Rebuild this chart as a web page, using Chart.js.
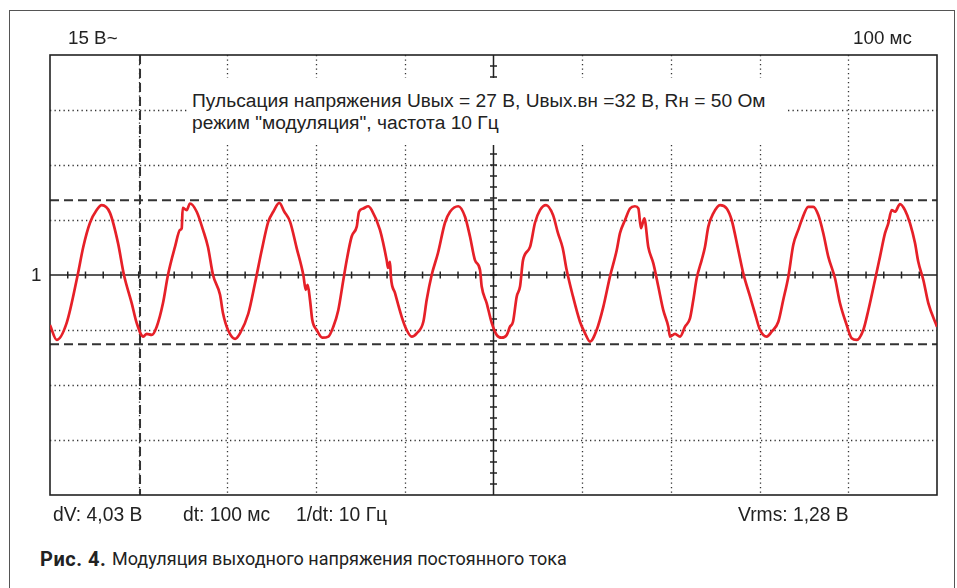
<!DOCTYPE html>
<html>
<head>
<meta charset="utf-8">
<script src="https://cdn.jsdelivr.net/npm/chart.js@4/dist/chart.umd.min.js"></script>
<style>
  html, body { margin: 0; padding: 0; background: #fff; }
  body { width: 957px; height: 588px; position: relative; overflow: hidden;
         font-family: "Liberation Sans", Arial, sans-serif; color: #222; }
  #frame { position: absolute; left: 9px; top: 10px; width: 944px; height: 600px;
           border: 1.5px solid #555; border-bottom: none; }
  #wrap { position: absolute; left: 40px; top: 45px; width: 907px; height: 460px; }
  .lbl { position: absolute; white-space: nowrap; line-height: 1; font-size: 18.8px; }
  .bot { font-size: 19.3px; }
  #note { position: absolute; left: 187px; top: 78px; width: 600px; height: 67px; background: #fff;
          font-size: 19.2px; line-height: 22px; padding: 12px 0 0 5px; box-sizing: border-box; }
  #note small { font-size: 18.8px; }
  .cap { position: absolute; top: 549px; font-family: Roboto, sans-serif;
         line-height: 1; white-space: nowrap; color: #222; }
</style>
</head>
<body>
<div id="frame"></div>
<div id="wrap"><canvas id="Scope"></canvas></div>

<div class="lbl" style="left:68px; top:29px">15 В~</div>
<div class="lbl" style="left:853px; top:29px">100 мс</div>
<div class="lbl" style="left:31px; top:266px">1</div>
<div class="lbl bot" style="left:53px; top:505px">dV: 4,03 В</div>
<div class="lbl bot" style="left:183px; top:505px">dt: 100 мс</div>
<div class="lbl bot" style="left:296px; top:505px">1/dt: 10 Гц</div>
<div class="lbl bot" style="left:738px; top:505px">Vrms: 1,28 В</div>

<div id="note">Пульсация напряжения U<small>вых</small> = 27 В, U<small>вых.вн</small> =32 В, R<small>н</small> = 50 Ом<br>режим "модуляция", частота 10 Гц</div>

<div class="cap" style="left:40px; font-size:20px; font-weight:700; letter-spacing:0.5px">Рис. 4.</div>
<div class="cap" style="left:112px; font-size:18px; top:550px">Модуляция выходного напряжения постоянного тока</div>

<script>
// time in ms (100 ms per division), level in divisions
const traceT = [0,7.6,18.8,31.2,37.5,45.1,52.6,58.3,67.6,76.7,
  83.4,92.1,97.7,105.2,109.0,114.7,120.3,127.4,133.0,140.9,
  146.6,148.5,149.6,154.1,157.8,165.4,172.5,178.1,183.8,191.7,
  195.0,200.7,208.6,214.2,223.6,231.1,238.7,246.1,251.7,258.5,
  264.2,270.6,278.1,285.6,288.3,290.5,293.1,295.7,300.7,307.0,
  313.8,319.4,325.0,330.7,334.5,340.1,345.8,348.4,353.2,358.8,
  362.7,372.0,379.6,381.1,383.3,384.4,389.0,396.5,402.1,407.8,
  413.4,420.9,424.7,430.3,437.4,445.3,451.0,460.3,467.9,473.5,
  479.1,484.8,486.7,492.3,498.0,503.6,509.2,514.9,518.6,522.0,
  526.2,529.9,533.3,541.2,546.8,552.4,559.2,567.1,572.7,578.0,
  582.5,589.6,597.5,603.2,608.8,616.3,623.8,631.3,638.9,642.6,
  648.3,653.9,659.5,663.3,666.3,670.0,674.5,680.2,685.8,691.4,
  697.1,699.0,704.6,710.3,715.9,721.5,725.3,729.1,734.7,738.4,
  742.2,747.8,755.4,762.9,768.5,776.0,781.6,789.2,794.8,800.5,
  808.0,813.6,821.1,826.7,832.4,838.0,843.6,847.5,854.9,860.5,
  866.2,871.8,877.5,885.0,890.6,898.2,903.8,909.5,916.9,922.6,
  930.1,935.7,941.4,945.1,948.9,952.7,958.3,963.9,969.6,975.2,
  978.9,984.6,990.2,1000];
const traceV = [-0.91,-1.18,-0.87,0,0.51,0.95,1.18,1.27,1.13,0.58,
  0,-0.51,-0.87,-1.12,-1.07,-1.09,-0.94,-0.51,0,0.51,
  0.82,0.85,1.22,1.18,1.30,1.15,0.82,0.51,0,-0.36,
  -0.69,-1.00,-1.16,-1.06,-0.70,-0.15,0.45,0.97,1.15,1.31,
  1.15,0.97,0.49,0,-0.27,-0.18,-0.45,-0.82,-1.00,-1.14,
  -1.12,-0.94,-0.64,-0.09,0.27,0.70,0.88,1.15,1.21,1.25,
  1.18,0.82,0.27,0.13,0.24,-0.05,-0.33,-0.76,-1.00,-1.12,
  -1.06,-0.85,-0.45,0,0.40,0.95,1.15,1.25,1.06,0.70,
  0.27,0.09,-0.21,-0.51,-0.87,-1.09,-1.14,-1.09,-0.94,-0.85,
  -0.39,-0.21,0.27,0.51,0.95,1.18,1.27,1.09,0.76,0.49,
  0.09,-0.39,-0.85,-1.06,-1.21,-1.00,-0.58,-0.03,0.45,0.76,
  1.00,1.21,1.25,1.21,0.85,1.03,0.51,0.21,-0.21,-0.64,
  -0.94,-1.12,-1.07,-1.12,-0.94,-0.79,-0.45,-0.06,0.27,0.51,
  0.88,1.12,1.27,1.21,1.00,0.45,0.03,-0.39,-0.70,-1.00,
  -1.12,-1.03,-0.85,-0.45,-0.03,0.55,0.82,1.00,1.24,1.24,
  1.09,0.76,0.33,-0.06,-0.51,-0.91,-1.15,-1.18,-1.00,-0.64,
  -0.09,0.33,0.76,0.94,1.18,1.15,1.29,1.18,0.94,0.58,
  0.24,-0.09,-0.51,-0.94];

const gridT = [100, 200, 300, 400, 600, 700, 800, 900];
const gridV = [-3, -2, -1, 1, 2, 3];
const cursorT = [101.5];
const cursorV = [1.36, -1.26];

const points = traceT.map((t, i) => ({x: t, y: traceV[i]}));

function seg(ctx, x1, y1, x2, y2) {
    ctx.beginPath(); ctx.moveTo(x1, y1); ctx.lineTo(x2, y2); ctx.stroke();
}

// oscilloscope screen: dotted grid, centre axes with minor ticks, cursors, frame
const scopeGrid = {
    id: 'scopeGrid',
    beforeDatasetsDraw(chart) {
        const {ctx, chartArea: a, scales: {x, y}} = chart;
        ctx.save();
        ctx.strokeStyle = '#333';
        ctx.lineWidth = 1.3;
        ctx.setLineDash([1.3, 3.2]);
        for (let t of gridT) {
            const px = Math.round(x.getPixelForValue(t)) + 0.5;
            seg(ctx, px, a.top, px, a.bottom);
        }
        for (let v of gridV) {
            const py = Math.round(y.getPixelForValue(v)) + 0.5;
            seg(ctx, a.left, py, a.right, py);
        }

        // centre axes
        ctx.setLineDash([]);
        ctx.strokeStyle = '#222';
        ctx.lineWidth = 1.5;
        const cx = x.getPixelForValue(500), cy = y.getPixelForValue(0);
        seg(ctx, cx, a.top, cx, a.bottom);
        seg(ctx, a.left, cy, a.right, cy);
        for (let t = 20; t < 1000; t += 20) {
            const px = x.getPixelForValue(t);
            seg(ctx, px, cy - 3.5, px, cy + 3.5);
        }
        for (let v = -3.8; v < 4; v += 0.2) {
            const py = y.getPixelForValue(v);
            seg(ctx, cx - 3.5, py, cx + 3.5, py);
        }

        // cursors
        ctx.strokeStyle = '#333';
        ctx.lineWidth = 2;
        ctx.setLineDash([9, 5]);
        for (let t of cursorT) {
            const px = x.getPixelForValue(t);
            seg(ctx, px, a.top, px, a.bottom);
        }
        for (let v of cursorV) {
            const py = y.getPixelForValue(v);
            seg(ctx, a.left, py, a.right, py);
        }

        // screen border
        ctx.setLineDash([]);
        ctx.lineWidth = 1.6;
        ctx.strokeStyle = '#222';
        ctx.strokeRect(a.left, a.top, a.right - a.left, a.bottom - a.top);
        ctx.restore();
    }
};

new Chart(document.getElementById('Scope'), {
    type: 'line',
    data: {
        datasets: [{
            label: 'U',
            data: points,
            borderColor: 'rgb(230,32,40)',
            borderWidth: 2.7,
            pointRadius: 0,
            fill: false,
            cubicInterpolationMode: 'monotone'
        }]
    },
    options: {
        responsive: true,
        maintainAspectRatio: false,
        animation: false,
        layout: {padding: 10},
        plugins: {legend: {display: false}, tooltip: {enabled: false}},
        scales: {
            x: {type: 'linear', min: 0, max: 1000, display: false},
            y: {min: -4, max: 4, display: false}
        }
    },
    plugins: [scopeGrid]
});
</script>
</body>
</html>
